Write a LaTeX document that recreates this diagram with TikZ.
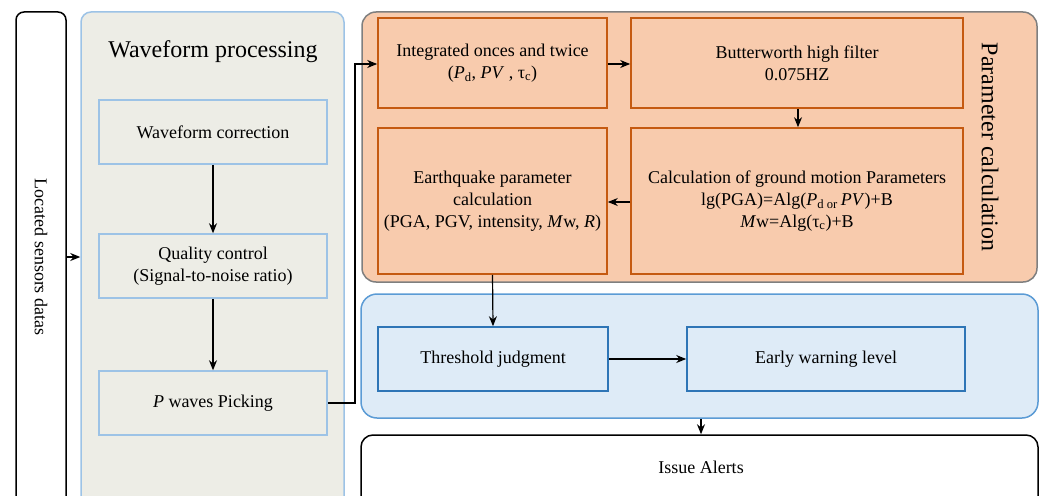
\documentclass[tikz,border=0pt]{standalone}
\usepackage{fontspec}
\setmainfont{Liberation Serif}
\usetikzlibrary{arrows.meta}
\definecolor{wfill}{HTML}{EDEDE6}
\definecolor{wline}{HTML}{9DC3E6}
\definecolor{ofill}{HTML}{F8CBAD}
\definecolor{oline}{HTML}{C55A11}
\definecolor{gline}{HTML}{7F7F7F}
\definecolor{bfill}{HTML}{DEEBF7}
\definecolor{bline}{HTML}{5B9BD5}
\definecolor{bline2}{HTML}{2E75B6}
\tikzset{
  txt/.style={font=\fontsize{18}{22}\selectfont, align=center, text=black},
  wbox/.style={txt, draw=wline, line width=1.5pt, fill=wfill, minimum width=228pt, minimum height=64pt, inner sep=0pt},
  obox/.style={txt, draw=oline, line width=1.6pt, fill=ofill, inner sep=0pt},
  bbox/.style={txt, draw=bline2, line width=1.6pt, fill=bfill, minimum height=64pt, inner sep=0pt},
  conn/.style={line width=1.2pt, -{Stealth[length=10pt,width=8pt]}},
  bigt/.style={font=\fontsize{24}{28}\selectfont, text=black}
}
\begin{document}
\begin{tikzpicture}[x=1pt,y=-1pt]
\useasboundingbox (0,0) rectangle (1040,495);
\clip (0,0) rectangle (1040,495);
% left sensors box
\node[draw=black, line width=1.5pt, rounded corners=8pt, fill=white, minimum width=50pt, minimum height=508pt, inner sep=0pt] (sens) at (41,266) {};
\node[txt, rotate=-90] (senst) at (41,257) {Located sensors datas};
% waveform container
\node[draw=wline, line width=1.5pt, rounded corners=10pt, fill=wfill, minimum width=263pt, minimum height=508pt, inner sep=0pt] (wave) at (212.5,266) {};
\node[bigt] (wavet) at (213,52) {Waveform processing};
\node[wbox] (wc) at (213,132) {Waveform correction};
\node[wbox] (qc) at (213,266) {Quality control\\(Signal-to-noise ratio)};
\node[wbox] (pw) at (213,403) {\textit{P} waves Picking};
% parameter container
\node[draw=gline, line width=1.5pt, rounded corners=14pt, fill=ofill, minimum width=675pt, minimum height=270pt, inner sep=0pt] (par) at (699.5,147) {};
\node[bigt, rotate=-90] (part) at (990,147) {Parameter calculation};
\node[obox, minimum width=229pt, minimum height=90pt] (ib) at (492.5,63) {Integrated onces and twice\\(\textit{P}\textsubscript{d}, \textit{PV} , τ\textsubscript{c})};
\node[obox, minimum width=332pt, minimum height=90pt] (bw) at (797,63) {Butterworth high filter\\0.075HZ};
\node[obox, minimum width=229pt, minimum height=146pt] (eq) at (492.5,201) {Earthquake parameter\\calculation\\(PGA, PGV, intensity, \textit{M}w, \textit{R})};
\node[obox, minimum width=332pt, minimum height=146pt] (gm) at (797,201) {Calculation of ground motion Parameters\\lg(PGA)=Alg(\textit{P}\textsubscript{d or }\textit{PV})+B\\\textit{M}w=Alg(τ\textsubscript{c})+B};
% blue container
\node[draw=bline, line width=1.5pt, rounded corners=16pt, fill=bfill, minimum width=677pt, minimum height=124pt, inner sep=0pt] (blu) at (699.5,356) {};
\node[bbox, minimum width=230pt] (th) at (493,359) {Threshold judgment};
\node[bbox, minimum width=278pt] (ew) at (826,359) {Early warning level};
% issue alerts
\node[draw=black, line width=1.5pt, rounded corners=12pt, fill=white, minimum width=677pt, minimum height=85pt, inner sep=0pt] (iss) at (699.5,477.5) {};
\node[txt] (isst) at (701,467) {Issue Alerts};
% connectors
\draw[conn] (sens.east |- 0,257) -- (wave.west |- 0,257);
\draw[conn] (wc) -- (qc);
\draw[conn] (qc) -- (pw);
\coordinate (j1) at (355,403);
\coordinate (j2) at (355,64);
\draw[conn] (pw.east) -- (j1) -- (j2) -- (ib.west |- j2);
\draw[conn] (ib.east |- 0,64) -- (bw.west |- 0,64);
\draw[conn] (bw.south -| 798,0) -- (gm.north -| 798,0);
\draw[conn] (gm.west |- 0,202) -- (eq.east |- 0,202);
\draw[conn] (eq.south) -- (th.north);
\draw[conn] (th) -- (ew);
\draw[conn] (blu.south -| 701,0) -- (iss.north -| 701,0);
\end{tikzpicture}
\end{document}
